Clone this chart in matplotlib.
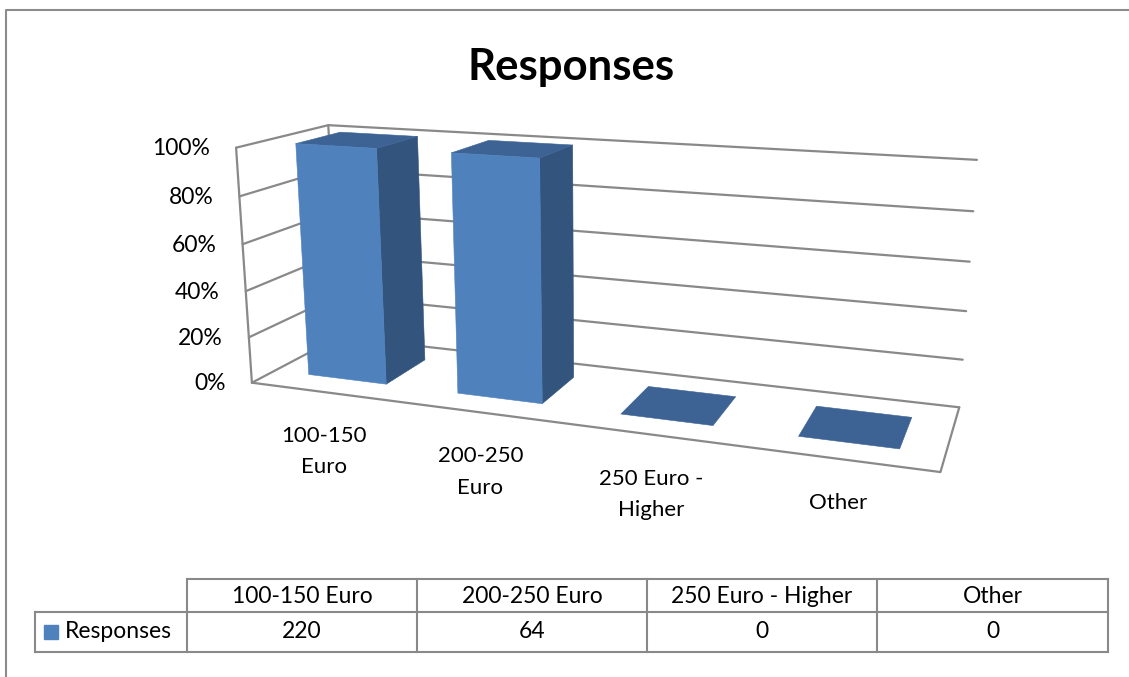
import matplotlib.pyplot as plt
import numpy as np
from matplotlib.transforms import offset_copy
from mpl_toolkits.mplot3d import proj3d
from mpl_toolkits.mplot3d.art3d import Poly3DCollection

plt.rcParams['font.family'] = ['Lato', 'DejaVu Sans']

# ------------------------------------------------------------
# Data
# ------------------------------------------------------------
categories = ['100-150 Euro', '200-250 Euro', '250 Euro - Higher', 'Other']
axis_labels = ['100-150\nEuro', '200-250\nEuro', '250 Euro -\nHigher', 'Other']
series_name = 'Responses'
responses = [220, 64, 0, 0]
pct_ticks = [0.0, 0.2, 0.4, 0.6, 0.8, 1.0]

# 100% stacked columns: share of each category total held by the series
series = np.array([responses], dtype=float)
totals = series.sum(axis=0)
shares = np.divide(series[0], totals, out=np.zeros_like(totals), where=totals > 0)

# ------------------------------------------------------------
# Style
# ------------------------------------------------------------
front_c = '#4F81BD'
side_c = '#33547D'
top_c = '#3C6394'
line_c = '#898989'

W, H = 1129, 677
fig = plt.figure(figsize=(W / 100, H / 100), dpi=100)

# ------------------------------------------------------------
# 3-D column area
# ------------------------------------------------------------
n = len(categories)
depth = 1.0

side = 746
ax = fig.add_axes([213 / W, 17 / H, side / W, side / H], projection='3d')
ax.set_proj_type('persp', focal_length=0.33)
ax.view_init(elev=14.3, azim=-70)
ax.set_box_aspect((4, 1.0, 1.41))
ax.set_xlim(0, n)
ax.set_ylim(0, depth)
ax.set_zlim(0, 1)
ax.set_xticks([])
ax.set_yticks([])
ax.set_zticks([])
ax.set_axis_off()
ax.set_facecolor('none')
ax.computed_zorder = False

wall = dict(color=line_c, lw=1.6, solid_capstyle='round', zorder=1,
            clip_on=False)

# side wall + back wall gridlines
for t in pct_ticks:
    ax.plot([0, 0, n], [0, depth, depth], [t, t, t], **wall)
ax.plot([0, 0], [0, 0], [0, 1], **wall)
ax.plot([0, 0], [depth, depth], [0, 1], **wall)
# floor outline
ax.plot([0, n, n], [0, 0, depth], [0, 0, 0], **wall)

bar_w = 0.53
y0, y1 = 0.25, 0.75
for i, h in enumerate(shares):
    x0, x1 = i + 0.5 - bar_w / 2, i + 0.5 + bar_w / 2
    faces = [[(x0, y0, h), (x1, y0, h), (x1, y1, h), (x0, y1, h)]]
    colors = [top_c]
    if h > 0:
        faces.append([(x0, y0, 0), (x1, y0, 0), (x1, y0, h), (x0, y0, h)])
        faces.append([(x1, y0, 0), (x1, y1, 0), (x1, y1, h), (x1, y0, h)])
        colors += [front_c, side_c]
    pc = Poly3DCollection(faces, facecolors=colors, edgecolors=colors,
                          linewidths=0.4, zorder=3)
    pc.set_clip_on(False)
    ax.add_collection3d(pc)
ax.set_xlim(0, n)
ax.set_ylim(0, depth)
ax.set_zlim(0, 1)

# axis labels: project the anchor points once, then place them as flat text
M = ax.get_proj()


def flat(x, y, z):
    px, py, _ = proj3d.proj_transform(x, y, z, M)
    return float(px), float(py)


# value axis labels sit a fixed distance left of the front vertical edge
tick_tr = offset_copy(ax.transData, fig=fig, x=-26, y=-1, units='dots')
for t in pct_ticks:
    px, py = flat(0, 0, t)
    ax.text2D(px, py, f'{t:.0%}', ha='right', va='center', fontsize=16.5,
              transform=tick_tr, clip_on=False)

# category labels hang below the front edge of the floor
cat_tr = offset_copy(ax.transData, fig=fig, x=-1, y=-34, units='dots')
for i, lab in enumerate(axis_labels):
    px, py = flat(i + 0.5, 0, 0)
    ax.text2D(px, py, lab, ha='center', va='top', fontsize=16,
              linespacing=1.7, transform=cat_tr, clip_on=False)

# ------------------------------------------------------------
# Title, chart border and data table (pixel coordinates)
# ------------------------------------------------------------
ov = fig.add_axes([0, 0, 1, 1])
ov.set_xlim(0, W)
ov.set_ylim(H, 0)
ov.axis('off')
ov.patch.set_alpha(0)

ov.plot([6, 6, W + 20], [H + 20, 10, 10], color='#8C8C8C', lw=1.5,
        clip_on=False)

ov.text(571, 80, series_name, ha='center', va='baseline', fontsize=31.5,
        fontweight='bold')

col_edges = [35, 187, 417, 647, 877, 1108]
row_top, row_mid, row_bot = 579, 612, 652
tbl = dict(color=line_c, lw=1.5)
ov.plot([col_edges[1], col_edges[-1]], [row_top, row_top], **tbl)
ov.plot([col_edges[0], col_edges[-1]], [row_mid, row_mid], **tbl)
ov.plot([col_edges[0], col_edges[-1]], [row_bot, row_bot], **tbl)
ov.plot([col_edges[0], col_edges[0]], [row_mid, row_bot], **tbl)
for xe in col_edges[1:]:
    ov.plot([xe, xe], [row_top, row_bot], **tbl)

for j, (cat, val) in enumerate(zip(categories, responses)):
    cx = (col_edges[j + 1] + col_edges[j + 2]) / 2
    ov.text(cx, (row_top + row_mid) / 2 + 1, cat, ha='center', va='center',
            fontsize=16.5)
    ov.text(cx, (row_mid + row_bot) / 2, str(val), ha='center', va='center',
            fontsize=16.5)

ov.add_patch(plt.Rectangle((44, 625), 14, 14, color=front_c))
ov.text(65, (row_mid + row_bot) / 2, series_name, ha='left', va='center',
        fontsize=16.5)

fig.savefig('out.png', dpi=100)
